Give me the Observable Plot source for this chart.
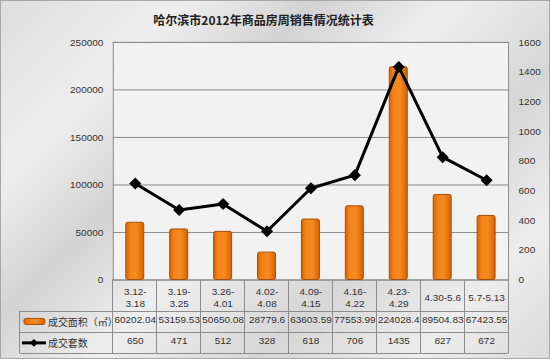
<!DOCTYPE html>
<html>
<head>
<meta charset="utf-8">
<script src="https://cdn.jsdelivr.net/npm/d3@7"></script>
<script src="https://cdn.jsdelivr.net/npm/@observablehq/plot@0.6"></script>
<style>
  html, body { margin: 0; padding: 0; }
  #chart {
    position: relative; width: 550px; height: 359px; overflow: hidden; box-sizing: border-box;
    border: 1px solid #a8a8a8;
    background:
      linear-gradient(135deg, rgba(255,255,255,0.0) 0%, rgba(255,255,255,0.5) 20%, rgba(190,190,190,0.35) 35%, rgba(255,255,255,0.5) 50%, rgba(200,200,200,0.35) 68%, rgba(255,255,255,0.45) 85%, rgba(210,210,210,0.3) 100%),
      #dedede;
  }
  #title {
    position: absolute; left: 0; top: 10px; width: 525px; text-align: center;
    font-family: "Noto Sans CJK SC", sans-serif; font-weight: bold; font-size: 12px; color: #222;
  }
  #plot { position: absolute; left: -1px; top: -1px; }
</style>
</head>
<body>
<div id="chart">
  <div id="plot"></div>
  <div id="title">哈尔滨市2012年商品房周销售情况统计表</div>
</div>
<script>
// ---- data ----
const cats = ["3.12-\n3.18", "3.19-\n3.25", "3.26-\n4.01", "4.02-\n4.08", "4.09-\n4.15", "4.16-\n4.22", "4.23-\n4.29", "4.30-5.6", "5.7-5.13"];
const areaValues = [60202.04, 53159.53, 50650.08, 28779.6, 63603.59, 77553.99, 224028.4, 89504.83, 67423.55];
const countValues = [650, 471, 512, 328, 618, 706, 1435, 827, 672];
const leftTicks = [0, 50000, 100000, 150000, 200000, 250000];
const rightTicks = [0, 200, 400, 600, 800, 1000, 1200, 1400, 1600];
const seriesNames = ["成交面积（㎡）", "成交套数"];

const k = 250000 / 1600; // right axis -> left axis units
const rows = cats.map((c, i) => ({cat: c, area: areaValues[i], count: countValues[i]}));

const plot = Plot.plot({
  width: 550, height: 359,
  marginTop: 42, marginBottom: 79, marginLeft: 113, marginRight: 41,
  x: {domain: cats, paddingInner: 0.59, paddingOuter: 0.295, axis: null},
  y: {domain: [0, 250000], axis: null},
  style: {background: "transparent", fontFamily: "Liberation Sans, sans-serif", fontSize: "10px", color: "#333"},
  marks: [
    Plot.frame({fill: "#f2f2f2", stroke: "#8c8c8c"}),
    Plot.gridY(leftTicks, {stroke: "#8c8c8c", strokeOpacity: 1}),
    Plot.axisY(leftTicks, {anchor: "left", tickSize: 0, tickPadding: 10, label: null, tickFormat: d => String(d)}),
    Plot.axisY(rightTicks.map(v => v * k), {anchor: "right", tickSize: 0, tickPadding: 10, label: null, tickFormat: d => String(Math.round(d / k))}),
    Plot.barY(rows, {x: "cat", y: "area", fill: "url(#barGrad)", stroke: "#a84e00", strokeWidth: 1, rx: 2}),
    Plot.line(rows, {x: "cat", y: d => d.count * k, stroke: "#000", strokeWidth: 3}),
    Plot.dot(rows, {x: "cat", y: d => d.count * k, symbol: "diamond2", r: 4.5, fill: "#000", stroke: "#000"}),
    Plot.text(rows, {x: "cat", text: "cat", frameAnchor: "bottom", dy: 17, lineAnchor: "middle", lineHeight: 1.25, fill: "#333"}),
    Plot.text(rows, {x: "cat", text: d => String(d.area), frameAnchor: "bottom", dy: 43, fill: "#333"}),
    Plot.text(rows, {x: "cat", text: d => String(d.count), frameAnchor: "bottom", dy: 64, fill: "#333"})
  ]
});

document.getElementById("plot").appendChild(plot);

// gradient for bars
const svg = d3.select(plot);
svg.insert("defs", ":first-child").html(`
  <linearGradient id="barGrad" x1="0" x2="1" y1="0" y2="0">
    <stop offset="0%" stop-color="#d96500"/>
    <stop offset="25%" stop-color="#f3831a"/>
    <stop offset="60%" stop-color="#f58a20"/>
    <stop offset="100%" stop-color="#d56200"/>
  </linearGradient>`);

// data table grid below the plot, positioned with the plot's x scale
const xs = plot.scale("x");
const step = xs.step, bw = xs.bandwidth;
const edges = cats.map(c => xs.apply(c) - (step - bw) / 2);
edges.push(edges[edges.length - 1] + step);
const yBottom = 280, r1 = 312, r2 = 333, r3 = 354, leftX = 20;
const g = svg.append("g").attr("stroke", "#8c8c8c").attr("stroke-width", 1).attr("shape-rendering", "crispEdges");
edges.forEach(e => g.append("line").attr("x1", e).attr("x2", e).attr("y1", yBottom).attr("y2", r3));
g.append("line").attr("x1", leftX).attr("x2", leftX).attr("y1", r1).attr("y2", r3);
[r1, r2, r3].forEach(yy => g.append("line").attr("x1", leftX).attr("x2", edges[edges.length - 1]).attr("y1", yy).attr("y2", yy));

// legend keys inside the table
const lg = svg.append("g");
lg.append("rect").attr("x", 24).attr("y", 319).attr("width", 21).attr("height", 6).attr("rx", 2)
  .attr("fill", "url(#barGrad)").attr("stroke", "#a84e00");
lg.append("line").attr("x1", 22).attr("x2", 46).attr("y1", 343.5).attr("y2", 343.5).attr("stroke", "#000").attr("stroke-width", 3);
lg.append("path").attr("d", d3.symbol(d3.symbolDiamond2, 40)()).attr("transform", "translate(34,343.5)").attr("fill", "#000");
lg.selectAll("text.lab").data(seriesNames).join("text")
  .attr("class", "lab")
  .attr("x", 48).attr("y", (d, i) => i === 0 ? 323 : 344).attr("dy", "0.35em")
  .attr("text-anchor", "start")
  .attr("font-family", "Noto Sans CJK SC, sans-serif").attr("font-size", 10).attr("fill", "#333")
  .text(d => d);
</script>
</body>
</html>
